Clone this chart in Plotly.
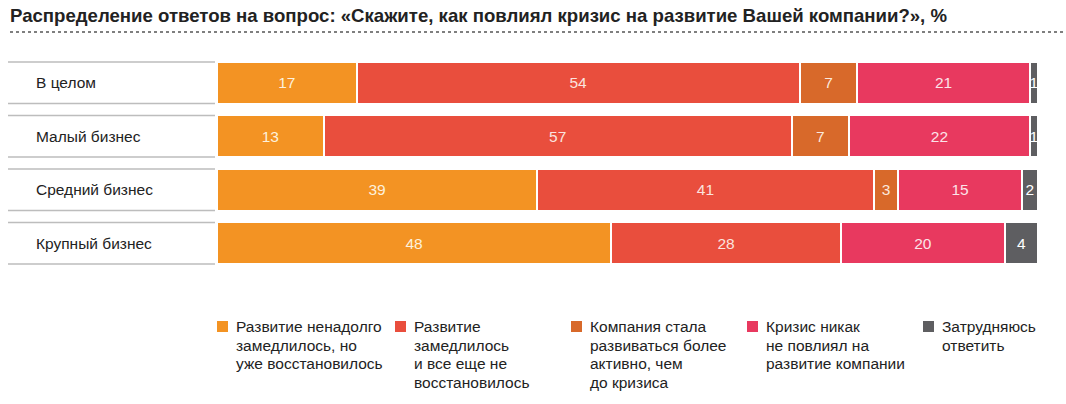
import plotly.graph_objects as go

categories = ["В целом", "Малый бизнес", "Средний бизнес", "Крупный бизнес"]
series_names = [
    "Развитие ненадолго<br>замедлилось, но<br>уже восстановилось",
    "Развитие<br>замедлилось<br>и все еще не<br>восстановилось",
    "Компания стала<br>развиваться более<br>активно, чем<br>до кризиса",
    "Кризис никак<br>не повлиял на<br>развитие компании",
    "Затрудняюсь<br>ответить",
]
recovered = [17, 13, 39, 48]
not_recovered = [54, 57, 41, 28]
more_active = [7, 7, 3, 0]
no_effect = [21, 22, 15, 20]
hard_to_say = [1, 1, 2, 4]
series_values = [recovered, not_recovered, more_active, no_effect, hard_to_say]
colors = ["#F39323", "#E94E3D", "#D8692A", "#E8395F", "#5E5E61"]
text_colors = ["#FDF1DC", "#FBE3DF", "#FBE8DC", "#FCE3E8", "#FFFFFF"]

W, H = 1066, 404
x0_px, x1_px = 217, 1038
top_px, bot_px = 56, 270
legend_square_px = [217, 395, 571, 747, 923]


def px_x(px):
    return (px - x0_px) / (x1_px - x0_px)


def px_y(py):
    return (bot_px - py) / (bot_px - top_px)


fig = go.Figure()
for name, vals, col, tcol in zip(series_names, series_values, colors, text_colors):
    fig.add_trace(go.Bar(
        y=categories, x=vals, name=name.replace("<br>", " "), orientation="h",
        marker=dict(color=col, line=dict(color="white", width=2)),
        text=[str(v) if v > 0 else "" for v in vals],
        textposition="inside", insidetextanchor="middle", constraintext="none",
        textfont=dict(color=tcol, size=15.5, family="Liberation Sans"),
        hoverinfo="x+name", showlegend=False,
    ))

shapes = []
for i, c in enumerate(categories):
    for dy in (-0.39, 0.39):
        shapes.append(dict(type="line", xref="paper", yref="y",
                           x0=px_x(8), x1=px_x(215), y0=i + dy, y1=i + dy,
                           line=dict(color="#BDBDBD", width=1.5)))
# dotted separator under title
shapes.append(dict(type="line", xref="paper", yref="paper",
                   x0=px_x(10), x1=px_x(1066), y0=px_y(32), y1=px_y(32),
                   line=dict(color="#555555", width=1.5, dash="dot")))

annotations = []
for i, c in enumerate(categories):
    annotations.append(dict(text=c, xref="paper", yref="y",
                            x=px_x(34), y=i, xanchor="left", yanchor="middle",
                            showarrow=False,
                            font=dict(size=15.5, color="#222222", family="Liberation Sans")))

# legend (squares + multi-line labels)
line_step = 18.4
for name, col, sx in zip(series_names, colors, legend_square_px):
    shapes.append(dict(type="rect", xref="paper", yref="paper",
                       x0=px_x(sx), x1=px_x(sx + 11), y0=px_y(321), y1=px_y(332),
                       fillcolor=col, line=dict(width=0)))
    for k, line in enumerate(name.split("<br>")):
        annotations.append(dict(text=line, xref="paper", yref="paper",
                                x=px_x(sx + 17), y=px_y(327 + k * line_step),
                                xanchor="left", yanchor="middle",
                                align="left", showarrow=False,
                                font=dict(size=15.5, color="#222222", family="Liberation Sans")))

fig.update_layout(
    width=W, height=H,
    barmode="stack", bargap=0.21,
    paper_bgcolor="white", plot_bgcolor="white",
    margin=dict(l=x0_px, r=W - x1_px, t=top_px, b=H - bot_px, pad=0, autoexpand=False),
    title=dict(text="<b>Распределение ответов на вопрос: «Скажите, как повлиял кризис на развитие Вашей компании?», %</b>",
               x=10 / W, xanchor="left", y=1 - 15 / H, yanchor="middle",
               font=dict(size=18.6, color="#222222", family="Liberation Sans")),
    xaxis=dict(range=[0, 100], visible=False, fixedrange=True),
    yaxis=dict(autorange="reversed", visible=False, fixedrange=True),
    shapes=shapes, annotations=annotations,
    showlegend=False,
    font=dict(family="Liberation Sans"),
)

fig.write_html("out.html", config={"displayModeBar": False},
               post_script="document.body.style.margin='0';")
